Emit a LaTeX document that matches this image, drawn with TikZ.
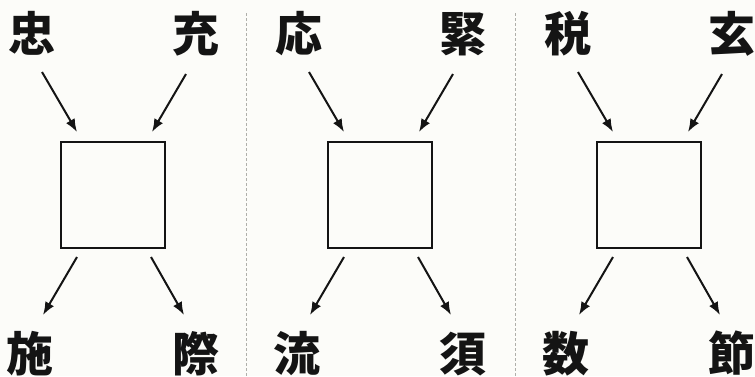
\documentclass[tikz,border=0pt]{standalone}
\usepackage{fontspec}
\newfontfamily\cjk{Noto Sans CJK JP}
\usetikzlibrary{arrows.meta}
\definecolor{bgcol}{RGB}{252,252,249}
\definecolor{dashcol}{RGB}{175,175,170}
\definecolor{inkcol}{RGB}{20,20,20}
\begin{document}
\begin{tikzpicture}[x=1pt,y=-1pt,
  kanji/.style={inner sep=0pt,text=inkcol,font=\cjk\bfseries\fontsize{47}{47}\selectfont,
    text height=41.4pt,text depth=5.6pt},
  boxnode/.style={draw=inkcol,line width=2.5pt,minimum width=104pt,minimum height=106pt,inner sep=0pt},
  arr/.style={draw=inkcol,line width=2pt,-{Latex[length=13pt,width=10pt]}},
  sep/.style={draw=dashcol,line width=0.8pt,dash pattern=on 3pt off 2pt}]
\fill[bgcol] (0,0) rectangle (755,376);
\useasboundingbox (0,0) rectangle (755,376);
\coordinate (s1t) at (246,13); \coordinate (s1b) at (246,376);
\coordinate (s2t) at (515,13); \coordinate (s2b) at (515,376);
\draw[sep] (s1t) -- (s1b);
\draw[sep] (s2t) -- (s2b);
\foreach \x/\a/\b/\c/\d/\n in {61/忠/充/施/際/p1, 328/応/緊/流/須/p2, 597/税/玄/数/節/p3}{
  \begin{scope}[shift={(\x,0)}]
    \node[boxnode] (\n box) at (52,195) {};
    \node[kanji] (\n tl) at (-29,34) {\a};
    \node[kanji] (\n tr) at (135,34) {\b};
    \node[kanji] (\n bl) at (-31,354) {\c};
    \node[kanji] (\n br) at (135,354) {\d};
    \coordinate (\n tls) at (-19,72); \coordinate (\n tle) at (16,132);
    \coordinate (\n trs) at (125,74); \coordinate (\n tre) at (91,132);
    \coordinate (\n bls) at (16,257); \coordinate (\n ble) at (-18,315);
    \coordinate (\n brs) at (90,257); \coordinate (\n bre) at (123,315);
    \draw[arr] (\n tls) -- (\n tle);
    \draw[arr] (\n trs) -- (\n tre);
    \draw[arr] (\n bls) -- (\n ble);
    \draw[arr] (\n brs) -- (\n bre);
  \end{scope}
}
\end{tikzpicture}
\end{document}
